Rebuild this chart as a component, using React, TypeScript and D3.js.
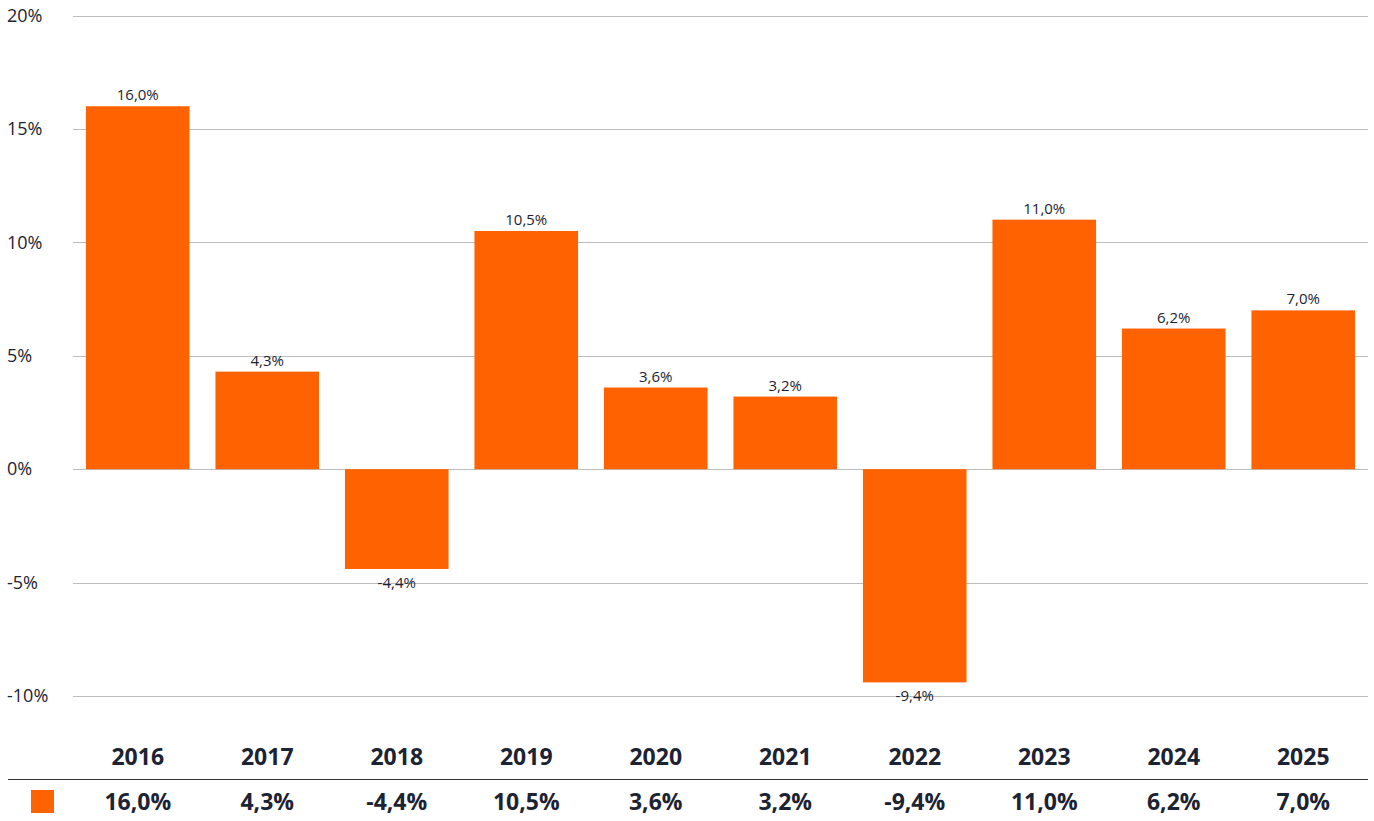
import React from "react";
import * as d3 from "d3";

const years = ["2016", "2017", "2018", "2019", "2020", "2021", "2022", "2023", "2024", "2025"];
const returns = [16.0, 4.3, -4.4, 10.5, 3.6, 3.2, -9.4, 11.0, 6.2, 7.0];
const yTicks = [-10, -5, 0, 5, 10, 15, 20];

const W = 1374;
const H = 821;
const FONT = "'Open Sans', 'Noto Sans', sans-serif";
const TEXT = "#1c2333";
const ORANGE = "#FF6200";

const fmt = (v: number) => v.toFixed(1).replace(".", ",") + "%";

export default function App() {
  const x = d3.scaleBand<string>().domain(years).range([73, 1368]).paddingInner(0.2).paddingOuter(0.1);
  const y = d3.scaleLinear().domain([-10, 20]).range([696, 15.5]);

  return (
    <svg width={W} height={H} style={{ position: "absolute", left: 0, top: 0, background: "#fff" }} fontFamily={FONT}>
      {yTicks.map((t) => (
        <g key={t}>
          <line x1={73} x2={1368} y1={Math.round(y(t)) + 0.5} y2={Math.round(y(t)) + 0.5} stroke="#bdbdbd" strokeWidth={1} />
          <text x={7} y={y(t)} dy="0.35em" fontSize={18} fill={TEXT}>{t}%</text>
        </g>
      ))}
      {years.map((yr, i) => {
        const v = returns[i];
        const bx = x(yr)!;
        const cx = bx + x.bandwidth() / 2;
        const top = y(Math.max(0, v));
        const bot = y(Math.min(0, v));
        return (
          <g key={yr}>
            <rect x={bx} y={top} width={x.bandwidth()} height={bot - top} fill={ORANGE} />
            <text x={cx} y={v >= 0 ? top - 6 : bot + 19} textAnchor="middle" fontSize={15} fill={TEXT}>
              {fmt(v)}
            </text>
            <text x={cx} y={765} textAnchor="middle" fontSize={23} fontWeight={700} fill={TEXT}>{yr}</text>
            <text x={cx} y={810} textAnchor="middle" fontSize={23} fontWeight={700} fill={TEXT}>{fmt(v)}</text>
          </g>
        );
      })}
      <line x1={8} x2={1368} y1={779.5} y2={779.5} stroke="#333" strokeWidth={1} />
      <rect x={31} y={790} width={23} height={23} fill={ORANGE} />
    </svg>
  );
}
